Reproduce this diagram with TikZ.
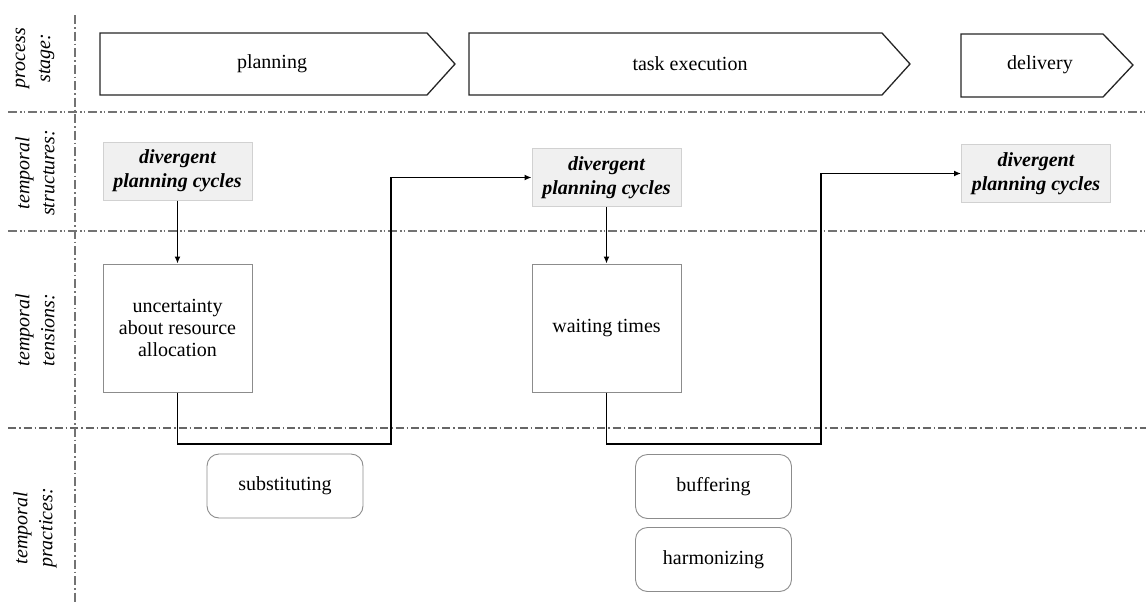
\documentclass[tikz,border=0pt]{standalone}
\usepackage{fontspec}
\setmainfont{Liberation Serif}
\usetikzlibrary{arrows.meta}

\tikzset{
  lane/.style={draw=black!55, line width=1.4pt,
    dash pattern=on 9pt off 3pt on 1.5pt off 2pt on 1.5pt off 3pt},
  lanelow/.style={draw=black!60, line width=1.4pt,
    dash pattern=on 8pt off 3pt on 1.5pt off 3pt},
  divider/.style={draw=black!55, line width=1.4pt,
    dash pattern=on 9pt off 3pt on 1.5pt off 3pt},
  stageshape/.style={draw=black!85, line width=1.3pt, fill=white},
  stagetext/.style={font=\fontsize{20}{22}\selectfont},
  rowlabel/.style={rotate=90, align=center, font=\fontsize{20}{25}\selectfont\itshape},
  structbox/.style={draw=black!18, line width=1pt, fill=black!6, align=center,
    minimum width=149pt, minimum height=58pt, inner sep=0pt,
    font=\fontsize{20}{24}\selectfont\bfseries\itshape},
  tensionbox/.style={draw=black!45, line width=1pt, fill=white, align=center,
    minimum width=149pt, minimum height=128pt, inner sep=0pt,
    font=\fontsize{20}{22}\selectfont},
  practicebox/.style={draw=black!45, line width=0.9pt, fill=white, rounded corners=12pt,
    minimum width=156pt, minimum height=64pt, inner sep=0pt,
    font=\fontsize{20}{22}\selectfont},
  flow/.style={draw=black, line width=1.9pt,
    -{Latex[length=7pt,width=6pt]}}
}

\begin{document}
\begin{tikzpicture}[x=1pt,y=-1pt]
\useasboundingbox (0,0) rectangle (1146,603);

% swim-lane separators
\draw[lane] (8,112) -- (1146,112);
\draw[lane] (8,231) -- (1146,231);
\draw[lanelow] (8,428) -- (1146,428);
\draw[divider] (75,15) -- (75,603);

% row labels
\node[rowlabel] (lblstage) at (35,58) {process\\stage:};
\node[rowlabel] (lblstruct) at (35,173) {temporal\\structures:};
\node[rowlabel] (lbltension) at (35,330) {temporal\\tensions:};
\node[rowlabel] (lblpractice) at (35,528) {temporal\\practices:};

% process stages
\draw[stageshape] (100,33) -- (427,33) -- (455,64) -- (427,95) -- (100,95) -- cycle;
\node[stagetext] (planning) at (272,64) {planning};
\draw[stageshape] (469,33) -- (882,33) -- (910,64) -- (882,95) -- (469,95) -- cycle;
\node[stagetext] (execution) at (690,64) {task execution};
\draw[stageshape] (961,34) -- (1103,34) -- (1133,65) -- (1103,97) -- (961,97) -- cycle;
\node[stagetext] (delivery) at (1040,65) {delivery};

% temporal structures
\node[structbox] (div1) at (177.5,171) {divergent\\planning cycles};
\node[structbox] (div2) at (606.5,177.5) {divergent\\planning cycles};
\node[structbox] (div3) at (1036,173.5) {divergent\\planning cycles};

% temporal tensions
\node[tensionbox] (ten1) at (177.5,328) {uncertainty\\about resource\\allocation};
\node[tensionbox] (ten2) at (606.5,328) {waiting times};

% temporal practices
\node[practicebox] (sub) at (285,486) {substituting};
\node[practicebox] (buf) at (713.5,486.5) {buffering};
\node[practicebox] (harm) at (713.5,559.5) {harmonizing};

% connectors
\coordinate (k1) at (391,444);
\coordinate (k2) at (821,444);
\draw[flow] (div1) -- (ten1);
\draw[flow] (div2) -- (ten2);
\draw[flow] (ten1.south) |- (k1) |- (div2.west);
\draw[flow] (ten2.south) |- (k2) |- (div3.west);
\end{tikzpicture}
\end{document}
